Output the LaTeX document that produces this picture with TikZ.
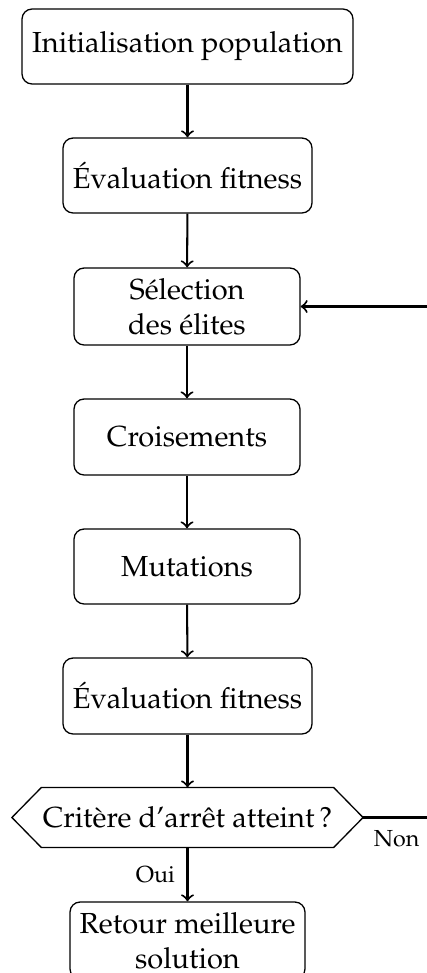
\documentclass[tikz,border=0pt]{standalone}
\usepackage[T1]{fontenc}
\usepackage{mathpazo}
\usetikzlibrary{calc}
\newcommand\pxu{0.34483pt}
\begin{document}
\begin{tikzpicture}[x=0.34483pt,y=-0.34483pt,
  box/.style={draw, line width=0.45pt, rounded corners=3.5pt, align=center, inner sep=0pt},
  arr/.style={->, line width=0.7pt},
  lab/.style={font=\footnotesize, inner sep=4pt}]
\useasboundingbox (0,0) rectangle (427,973);
\clip (0,0) rectangle (427,973);
\node[box, minimum width=331*\pxu, minimum height=75*\pxu] (init) at (187.5,46.5) {Initialisation population};
\node[box, minimum width=249*\pxu, minimum height=75*\pxu] (eval1) at (187.5,175.5) {\'Evaluation fitness};
\node[box, minimum width=226*\pxu, minimum height=77*\pxu] (sel) at (187,306.5) {S\'election\\des \'elites};
\node[box, minimum width=226*\pxu, minimum height=76*\pxu] (crois) at (187,437) {Croisements};
\node[box, minimum width=226*\pxu, minimum height=75*\pxu] (mut) at (187,566.5) {Mutations};
\node[box, minimum width=249*\pxu, minimum height=76*\pxu] (eval2) at (187.5,696) {\'Evaluation fitness};
\node[minimum width=291*\pxu, minimum height=59*\pxu, inner sep=0pt] (dec) at (187.5,817.5) {Crit\`ere d'arr\^et atteint\,?};
\draw[line width=0.45pt] (dec.north west) -- (dec.north east) -- ($(dec.east)+(29.5,0)$) coordinate (decE) -- (dec.south east) -- (dec.south west) -- ($(dec.west)+(-29.5,0)$) coordinate (decW) -- cycle;
\node[box, minimum width=235*\pxu, minimum height=77*\pxu] (ret) at (187.5,940.5) {Retour meilleure\\solution};
\coordinate (loop) at (430,817.5);
\draw[arr] (init) -- (eval1);
\draw[arr] (eval1) -- (sel);
\draw[arr] (sel) -- (crois);
\draw[arr] (crois) -- (mut);
\draw[arr] (mut) -- (eval2);
\draw[arr] (eval2) -- (dec);
\draw[arr] (dec) -- node[lab, left] {Oui} (ret);
\draw[arr] (decE) -- node[lab, below] {Non} (loop) |- (sel.east);
\end{tikzpicture}
\end{document}
